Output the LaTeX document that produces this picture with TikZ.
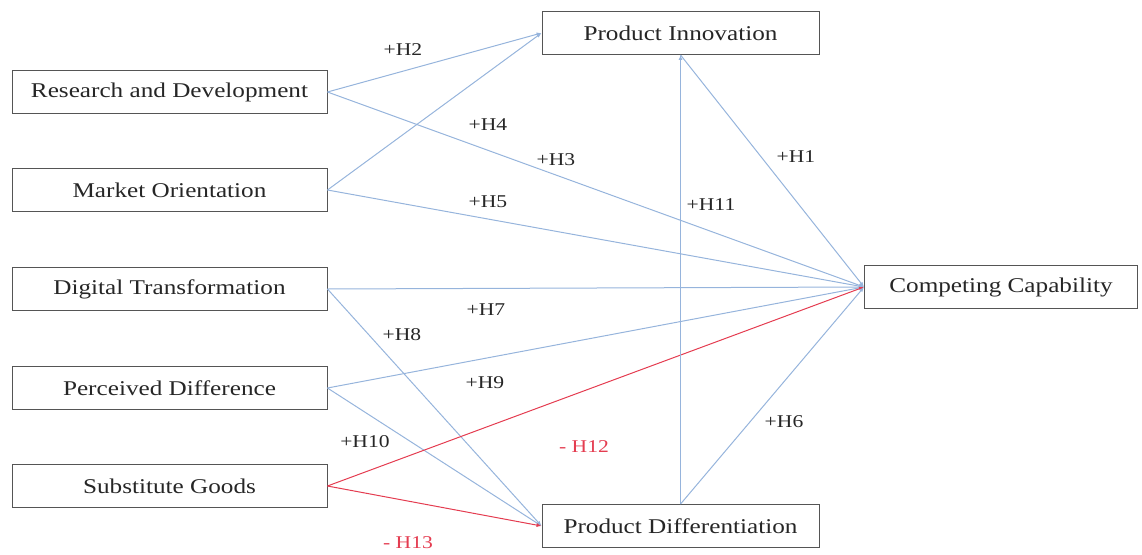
\documentclass[tikz,border=0pt]{standalone}
\usepackage{fontspec}
\setmainfont[FakeStretch=1.2]{Liberation Serif}
\usetikzlibrary{arrows.meta}

\definecolor{linkblue}{RGB}{150,180,220}
\definecolor{linkred}{RGB}{228,60,80}
\definecolor{boxgray}{RGB}{85,85,85}

\begin{document}
\begin{tikzpicture}[x=1pt, y=-1pt,
  box/.style={draw=boxgray, line width=0.9pt, minimum height=43pt,
              inner sep=0pt, font=\fontsize{21}{24}\selectfont, text=black!85},
  lbox/.style={box, minimum width=315pt},
  rbox/.style={box, minimum width=277pt},
  hyp/.style={font=\fontsize{18}{20}\selectfont, text=black!85},
  neg/.style={hyp, text=linkred},
  arr/.style={-{Latex[length=5pt, width=4pt]}, draw=linkblue, line width=1pt},
  rarr/.style={arr, draw=linkred}
]
  \useasboundingbox (0,0) rectangle (1142,554);
  % antecedents (left column)
  \node[lbox] (rd)   at (169.5,92)  {Research and Development};
  \node[lbox] (mo)   at (169.5,190) {Market Orientation};
  \node[lbox] (dt)   at (169.5,289) {Digital Transformation};
  \node[lbox] (pd)   at (169.5,388) {Perceived Difference};
  \node[lbox] (sg)   at (169.5,486) {Substitute Goods};
  % mediators and outcome
  \node[rbox] (pinn)  at (680.5,33)  {Product Innovation};
  \node[rbox] (pdiff) at (680.5,526) {Product Differentiation};
  \node[box, minimum width=273pt] (cc) at (1001,287) {Competing Capability};

  \draw[arr] (rd.east) -- (pinn.west);
  \draw[arr] (rd.east) -- (cc.west);
  \draw[arr] (mo.east) -- (pinn.west);
  \draw[arr] (mo.east) -- (cc.west);
  \draw[arr] (dt.east) -- (cc.west);
  \draw[arr] (dt.east) -- (pdiff.west);
  \draw[arr] (pd.east) -- (cc.west);
  \draw[arr] (pd.east) -- (pdiff.west);
  \draw[rarr] (sg.east) -- (cc.west);
  \draw[rarr] (sg.east) -- (pdiff.west);
  \draw[arr] (pdiff.north) -- (pinn.south);
  \draw[arr] (pinn.south) -- (cc.west);
  \draw[arr] (pdiff.north) -- (cc.west);

  % hypothesis labels
  \node[hyp] (h1)  at (796,157) {+H1};
  \node[hyp] (h2)  at (403,50)  {+H2};
  \node[hyp] (h3)  at (556,160) {+H3};
  \node[hyp] (h4)  at (488,125) {+H4};
  \node[hyp] (h5)  at (488,202) {+H5};
  \node[hyp] (h6)  at (784,422) {+H6};
  \node[hyp] (h7)  at (486,310) {+H7};
  \node[hyp] (h8)  at (402,335) {+H8};
  \node[hyp] (h9)  at (485,383) {+H9};
  \node[hyp] (h10) at (365,442) {+H10};
  \node[hyp] (h11) at (711,205) {+H11};
  \node[neg] (h12) at (584,447) {- H12};
  \node[neg] (h13) at (408,543) {- H13};
\end{tikzpicture}
\end{document}
